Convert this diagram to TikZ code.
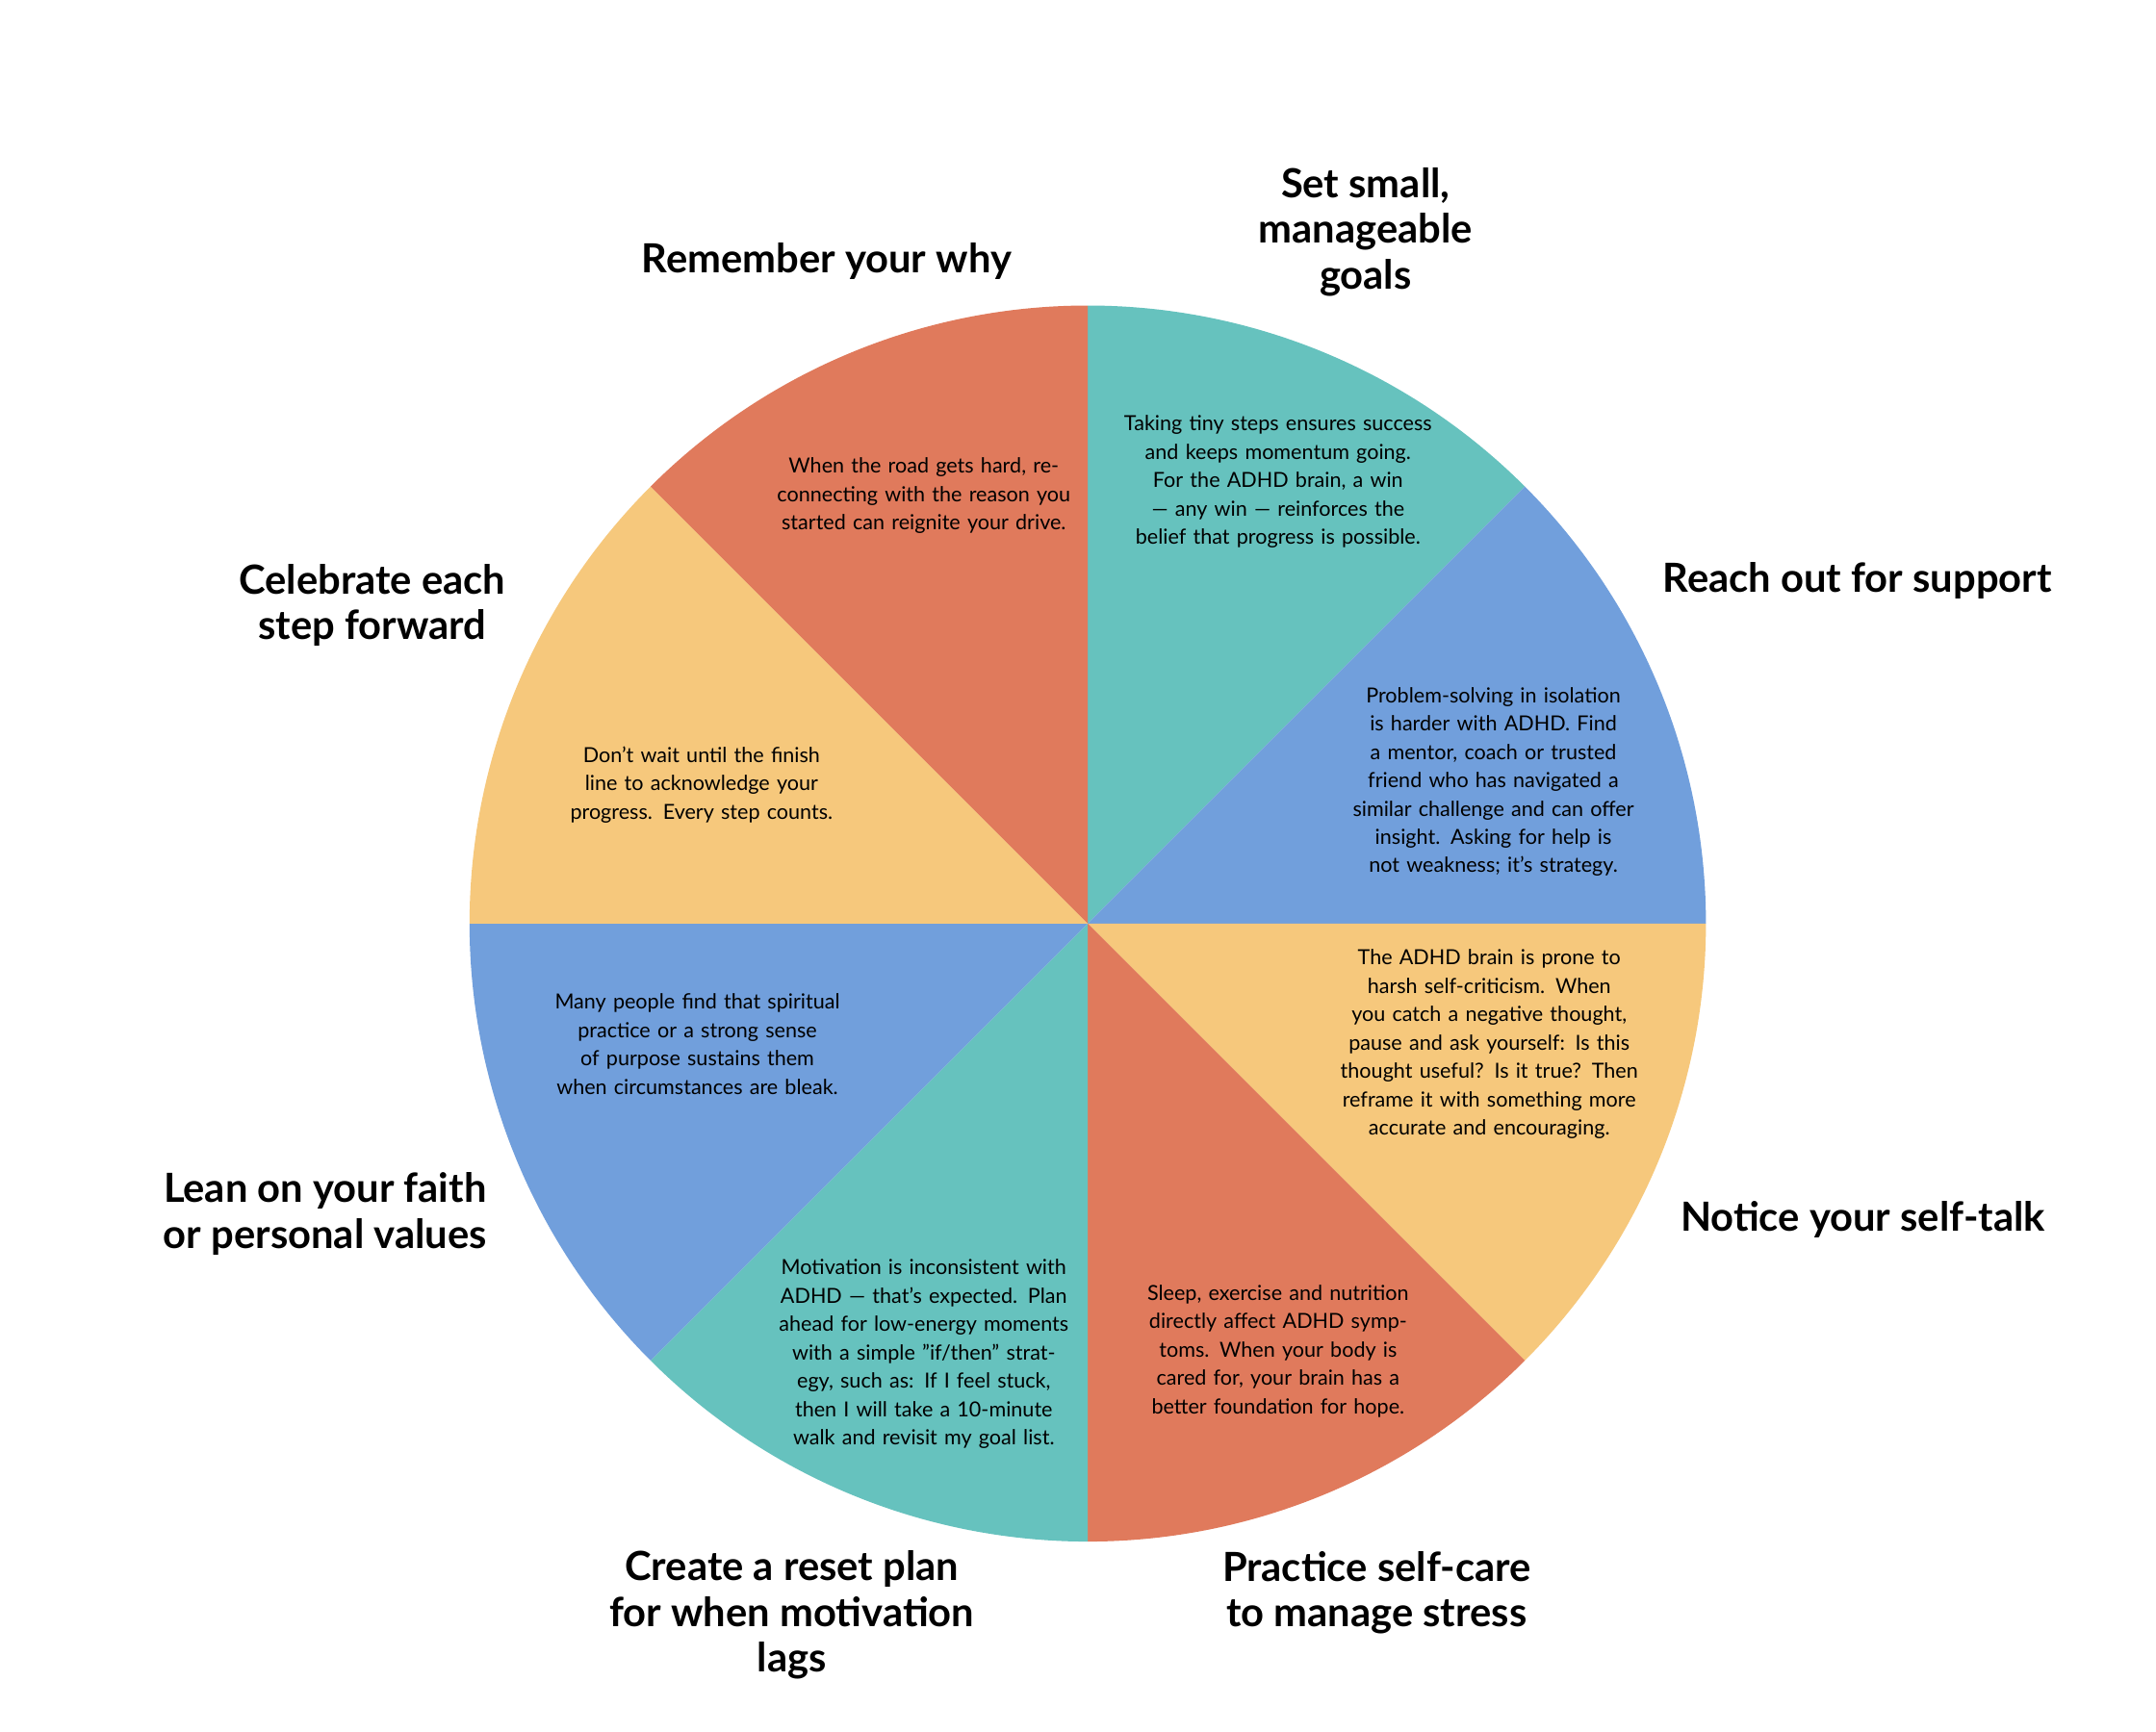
\documentclass[tikz,border=0pt]{standalone}
\usepackage{fontspec}
\setmainfont{Lato}
\definecolor{cred}{HTML}{E07A5C}
\definecolor{cteal}{HTML}{66C2BE}
\definecolor{cblue}{HTML}{719FDC}
\definecolor{cyel}{HTML}{F6C87C}
\begin{document}
\begin{tikzpicture}[x=1bp,y=1bp,
  body/.style={align=center,text width=#1,inner sep=0pt,font=\fontsize{15}{20.5}\selectfont},
  body/.default=225bp,
  ttl/.style={align=center,inner sep=0pt,font=\fontsize{29}{33}\selectfont\bfseries}]
\useasboundingbox[fill=white] (0,0) rectangle (1552,1247);
\coordinate (c) at (783,582);
\foreach \a/\b/\col in {90/45/cteal,45/0/cblue,0/-45/cyel,-45/-90/cred,-90/-135/cteal,-135/-180/cblue,180/135/cyel,135/90/cred}{
  \fill[\col] (c) -- ++(\a:445bp) arc[start angle=\a,end angle=\b,radius=445bp] -- cycle;
}
\node[body=215bp] (b1) at (665,890) {When the road gets hard, reconnecting with the reason you started can reignite your drive.};
\node[body] (b2) at (920,900) {Taking tiny steps ensures success and keeps momentum going. For the ADHD brain, a win — any win — reinforces the belief that progress is possible.};
\node[body] (b3) at (1075,684) {Problem-solving in isolation is harder with ADHD. Find a mentor, coach or trusted friend who has navigated a similar challenge and can offer insight. Asking for help is not weakness; it's strategy.};
\node[body] (b4) at (1072,495) {The ADHD brain is prone to harsh self-criticism. When you catch a negative thought, pause and ask yourself: Is this thought useful? Is it true? Then reframe it with something more accurate and encouraging.};
\node[body] (b5) at (920,274) {Sleep, exercise and nutrition directly affect ADHD symptoms. When your body is cared for, your brain has a better foundation for hope.};
\node[body=215bp] (b6) at (665,272) {Motivation is inconsistent with ADHD — that's expected. Plan ahead for low-energy moments with a simple "if/then" strategy, such as: If I feel stuck, then I will take a 10-minute walk and revisit my goal list.};
\node[body] (b7) at (502,495) {Many people find that spiritual practice or a strong sense of purpose sustains them when circumstances are bleak.};
\node[body] (b8) at (505,682) {Don't wait until the finish line to acknowledge your progress. Every step counts.};
\node[ttl] (t1) at (595,1059) {Remember your why};
\node[ttl] (t2) at (983,1080) {Set small,\\manageable\\goals};
\node[ttl] (t3) at (1337,829) {Reach out for support};
\node[ttl] (t4) at (268,811) {Celebrate each\\step forward};
\node[ttl] (t5) at (1341,369) {Notice your self-talk};
\node[ttl] (t6) at (234,373) {Lean on your faith\\or personal values};
\node[ttl] (t7) at (570,84) {Create a reset plan\\for when motivation\\lags};
\node[ttl] (t8) at (991,100) {Practice self-care\\to manage stress};
\end{tikzpicture}
\end{document}
